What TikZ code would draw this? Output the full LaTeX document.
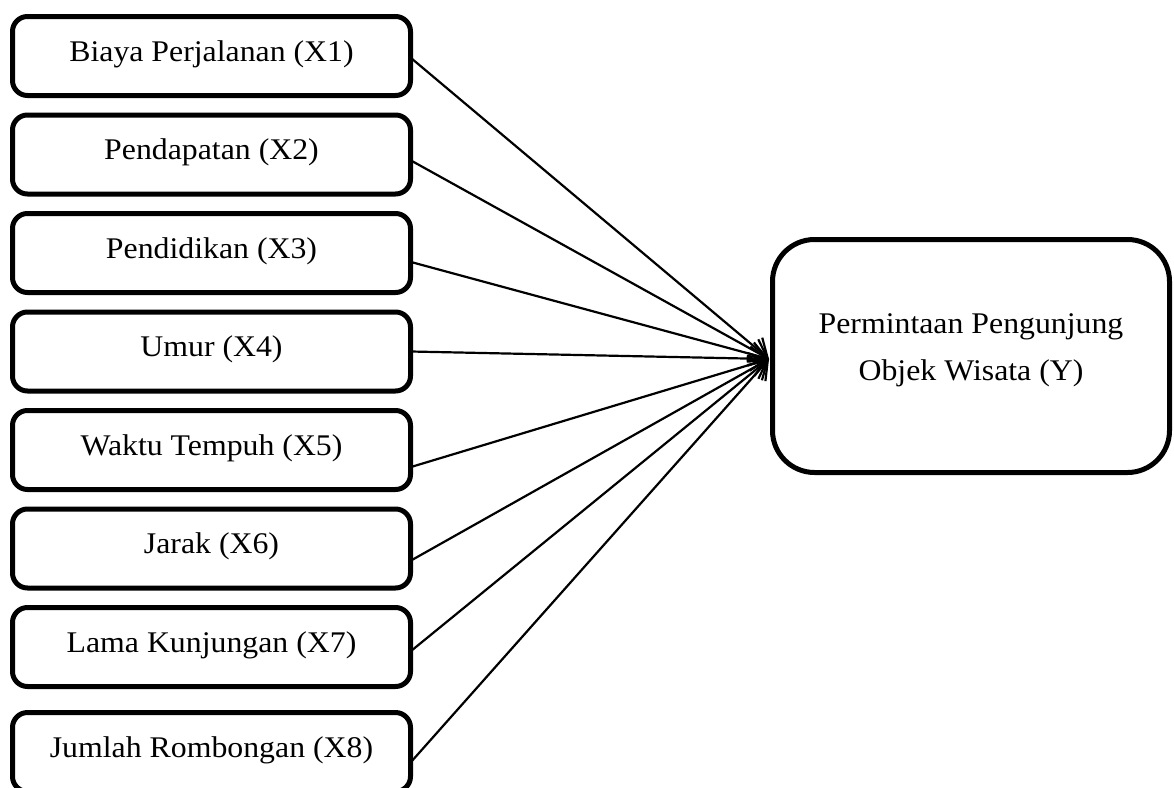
\documentclass[tikz,border=0pt]{standalone}
\usepackage{fontspec}
\setmainfont{Liberation Serif}[FakeStretch=1.06]
\usetikzlibrary{arrows.meta,calc}
\begin{document}
\begin{tikzpicture}[x=1pt,y=-1pt,
  varbox/.style={draw, line width=5pt, rounded corners=15pt, minimum width=398pt, minimum height=79pt, inner sep=0pt, font=\fontsize{30}{36}\selectfont, text height=21pt, text depth=11pt},
  ybox/.style={draw, line width=5pt, rounded corners=42pt, minimum width=397pt, minimum height=233pt, inner sep=0pt},
  ylab/.style={align=center, inner sep=0pt, font=\fontsize{30}{47}\selectfont},
  arr/.style={line width=2.2pt, -{Straight Barb[length=17pt,width=24pt]}}]
\useasboundingbox (0,0) rectangle (1174,787);
\begin{scope}
\clip (0,0) rectangle (1174,787);
\node[varbox] (b1) at (211.5,56) {Biaya Perjalanan (X1)};
\node[varbox] (b2) at (211.5,154.5) {Pendapatan (X2)};
\node[varbox] (b3) at (211.5,253) {Pendidikan (X3)};
\node[varbox] (b4) at (211.5,351.5) {Umur (X4)};
\node[varbox] (b5) at (211.5,450) {Waktu Tempuh (X5)};
\node[varbox] (b6) at (211.5,548.5) {Jarak (X6)};
\node[varbox] (b7) at (211.5,647) {Lama Kunjungan (X7)};
\node[varbox] (b8) at (211.5,752) {Jumlah Rombongan (X8)};
\node[ybox] (Y) at (971,356) {};
\node[ylab] (Ylab) at ($(Y.center)+(0,-6)$) {Permintaan Pengunjung\\Objek Wisata (Y)};
\coordinate (tip) at ($(Y.west)+(-1,3)$);
\draw[arr] ($(b1.east)+(-2,2)$) -- (tip);
\draw[arr] ($(b2.east)+(-2,6)$) -- (tip);
\draw[arr] ($(b3.east)+(-2,9)$) -- (tip);
\draw[arr] ($(b4.east)+(-2,0)$) -- (tip);
\draw[arr] ($(b5.east)+(-2,17)$) -- (tip);
\draw[arr] ($(b6.east)+(-2,12)$) -- (tip);
\draw[arr] ($(b7.east)+(-2,4)$) -- (tip);
\draw[arr] ($(b8.east)+(-2,10)$) -- (tip);
\end{scope}
\end{tikzpicture}
\end{document}
